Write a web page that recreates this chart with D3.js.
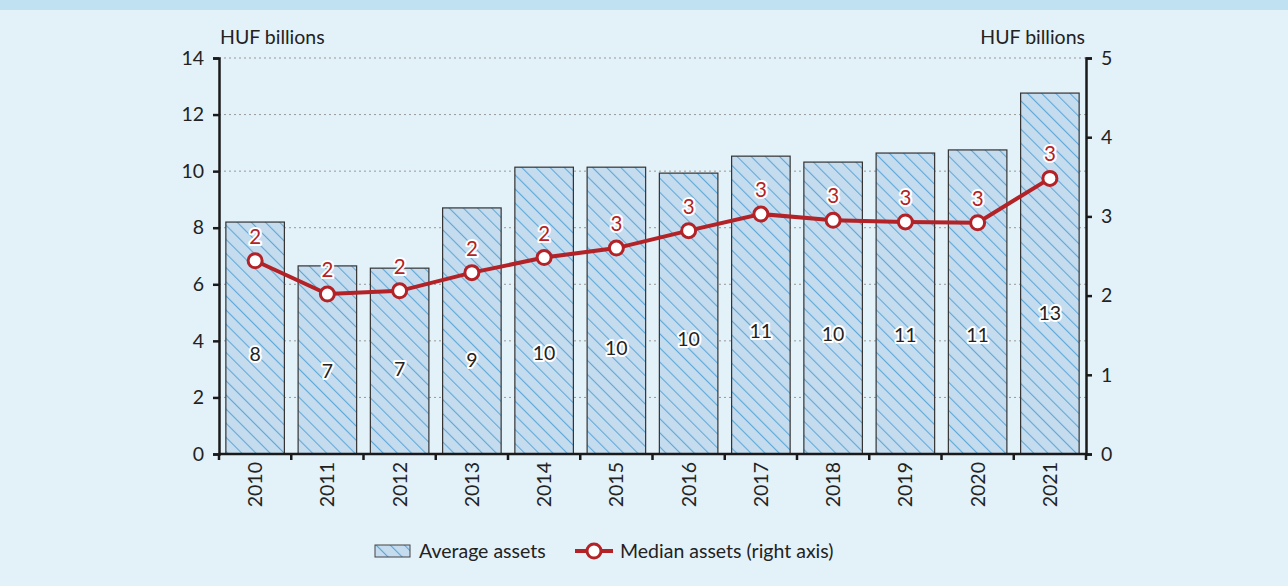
<!DOCTYPE html>
<html>
<head>
<meta charset="utf-8">
<script src="https://cdn.jsdelivr.net/npm/d3@7"></script>
<style>
  body { margin: 0; background: #e3f1f9; }
  svg { display: block; }
  svg text { font-family: Lato, "Open Sans", sans-serif; }
</style>
</head>
<body>
<svg id="main" width="1288" height="586"></svg>
<script>
const years = ["2010", "2011", "2012", "2013", "2014", "2015", "2016", "2017", "2018", "2019", "2020", "2021"];
const averageAssets = [8.2, 6.65, 6.57, 8.7, 10.14, 10.14, 9.93, 10.53, 10.32, 10.64, 10.75, 12.76];
const medianAssets = [2.44, 2.02, 2.06, 2.29, 2.48, 2.6, 2.82, 3.03, 2.95, 2.93, 2.92, 3.48];
const leftTicks = [0, 2, 4, 6, 8, 10, 12, 14];
const rightTicks = [0, 1, 2, 3, 4, 5];

const svg = d3.select("#main");
const plotL = 219, plotR = 1086, plotT = 58, plotB = 454;
const fs = 19.5;

svg.append("rect").attr("width", 1288).attr("height", 586).attr("fill", "#e3f1f9");
svg.append("rect").attr("width", 1288).attr("height", 10).attr("fill", "#bfe1f2");

const defs = svg.append("defs");
const pat = defs.append("pattern")
  .attr("id", "hatch")
  .attr("patternUnits", "userSpaceOnUse")
  .attr("width", 10).attr("height", 10)
  .attr("patternTransform", "rotate(-45)");
pat.append("rect").attr("width", 10).attr("height", 10).attr("fill", "#c5dcef");
pat.append("line").attr("x1", 0).attr("y1", 0).attr("x2", 0).attr("y2", 10)
  .attr("stroke", "#5fa8d8").attr("stroke-width", 2.2);

const x = d3.scaleBand().domain(years).range([plotL, plotR]).paddingInner(0.19).paddingOuter(0.095);
const yL = d3.scaleLinear().domain([0, 14]).range([plotB, plotT]);
const yR = d3.scaleLinear().domain([0, 5]).range([plotB, plotT]);

// grid
svg.append("g").selectAll("line")
  .data(leftTicks.filter(d => d > 0))
  .join("line")
  .attr("x1", plotL).attr("x2", plotR)
  .attr("y1", d => yL(d)).attr("y2", d => yL(d))
  .attr("stroke", "#999").attr("stroke-width", 1).attr("stroke-dasharray", "2,3");

// bars
svg.append("g").selectAll("rect")
  .data(averageAssets)
  .join("rect")
  .attr("x", (d, i) => x(years[i]))
  .attr("y", d => yL(d))
  .attr("width", x.bandwidth())
  .attr("height", d => plotB - yL(d))
  .attr("fill", "url(#hatch)")
  .attr("stroke", "#333").attr("stroke-width", 1.2);

// axes
const axisStyle = g => {
  g.attr("font-family", null).attr("font-size", null);
  g.select(".domain").attr("stroke", "#1a1a1a").attr("stroke-width", 2.5);
  g.selectAll(".tick line").attr("stroke", "#1a1a1a").attr("stroke-width", 2.5);
  g.selectAll(".tick text").attr("fill", "#222").attr("font-size", fs);
};
svg.append("g").attr("transform", `translate(${plotL},0)`)
  .call(d3.axisLeft(yL).tickValues(leftTicks).tickSize(6).tickSizeOuter(6).tickPadding(9))
  .call(axisStyle);
svg.append("g").attr("transform", `translate(${plotR},0)`)
  .call(d3.axisRight(yR).tickValues(rightTicks).tickFormat(d3.format("d")).tickSize(6).tickSizeOuter(6).tickPadding(9))
  .call(axisStyle);

const xb = svg.append("g").attr("transform", `translate(0,${plotB})`);
xb.append("line").attr("x1", plotL).attr("x2", plotR).attr("stroke", "#1a1a1a").attr("stroke-width", 2.5);
xb.selectAll(".sep")
  .data(d3.range(years.length + 1))
  .join("line")
  .attr("x1", i => plotL + i * (plotR - plotL) / years.length)
  .attr("x2", i => plotL + i * (plotR - plotL) / years.length)
  .attr("y1", 0).attr("y2", 6)
  .attr("stroke", "#1a1a1a").attr("stroke-width", 2.5);
xb.selectAll("text")
  .data(years)
  .join("text")
  .attr("transform", d => `translate(${x(d) + x.bandwidth() / 2 + 7},8) rotate(-90)`)
  .attr("text-anchor", "end")
  .attr("font-size", fs).attr("fill", "#222")
  .text(d => d);

// unit labels
svg.append("text").attr("x", plotL + 1).attr("y", 44).attr("font-size", fs).attr("fill", "#222").text("HUF billions");
svg.append("text").attr("x", plotR - 1).attr("y", 44).attr("text-anchor", "end").attr("font-size", fs).attr("fill", "#222").text("HUF billions");

// median line
const cx = i => x(years[i]) + x.bandwidth() / 2;
const line = d3.line().x((d, i) => cx(i)).y(d => yR(d));
svg.append("path").datum(medianAssets)
  .attr("d", line).attr("fill", "none")
  .attr("stroke", "#b22226").attr("stroke-width", 4);
svg.append("g").selectAll("circle")
  .data(medianAssets)
  .join("circle")
  .attr("cx", (d, i) => cx(i)).attr("cy", d => yR(d)).attr("r", 7)
  .attr("fill", "#fff").attr("stroke", "#b22226").attr("stroke-width", 3);

// labels
const halo = sel => sel
  .attr("paint-order", "stroke")
  .attr("stroke", "#fff").attr("stroke-width", 4).attr("stroke-linejoin", "round");

svg.append("g").selectAll("text")
  .data(medianAssets)
  .join("text")
  .attr("x", (d, i) => cx(i)).attr("y", d => yR(d) - 17)
  .attr("text-anchor", "middle").attr("font-size", fs + 1).attr("fill", "#b22226")
  .text(d => Math.round(d))
  .call(halo);

svg.append("g").selectAll("text")
  .data(averageAssets)
  .join("text")
  .attr("x", (d, i) => cx(i))
  .attr("y", (d, i) => (plotB + yR(medianAssets[i])) / 2 + 4)
  .attr("text-anchor", "middle").attr("font-size", fs).attr("fill", "#222")
  .text(d => Math.round(d))
  .call(halo);

// legend
const lg = svg.append("g");
lg.append("rect").attr("x", 375).attr("y", 545).attr("width", 35).attr("height", 12)
  .attr("fill", "url(#hatch)").attr("stroke", "#444").attr("stroke-width", 1);
lg.append("text").attr("x", 419).attr("y", 558).attr("font-size", fs).attr("fill", "#222").text("Average assets");
lg.append("line").attr("x1", 575).attr("x2", 613).attr("y1", 551).attr("y2", 551)
  .attr("stroke", "#b22226").attr("stroke-width", 4);
lg.append("circle").attr("cx", 594).attr("cy", 551).attr("r", 7)
  .attr("fill", "#fff").attr("stroke", "#b22226").attr("stroke-width", 3);
lg.append("text").attr("x", 620).attr("y", 558).attr("font-size", fs).attr("fill", "#222").text("Median assets (right axis)");
</script>
</body>
</html>
